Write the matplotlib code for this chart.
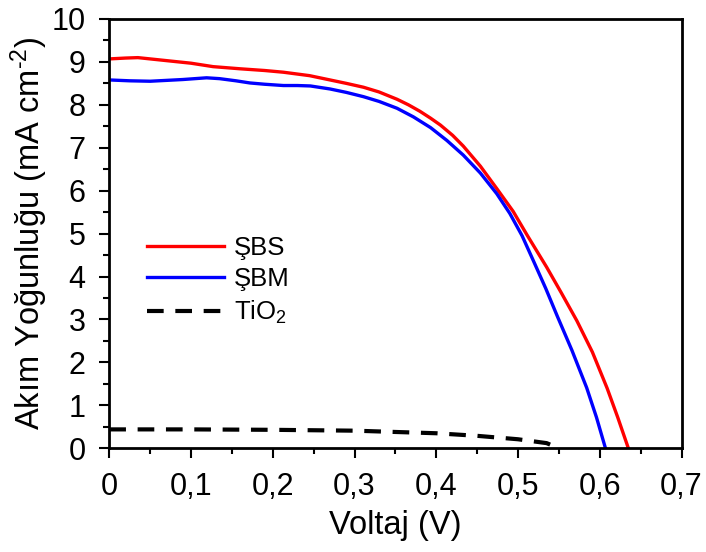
import matplotlib
matplotlib.use("Agg")
import matplotlib.pyplot as plt
from matplotlib.ticker import MultipleLocator

plt.rcParams['font.family'] = ['Liberation Sans', 'DejaVu Sans']
plt.rcParams['mathtext.fontset'] = 'custom'
plt.rcParams['mathtext.rm'] = 'Liberation Sans'
plt.rcParams['mathtext.it'] = 'Liberation Sans'

# ŞBS (red)
v_sbs = [0, 0.02, 0.035, 0.055, 0.08, 0.1, 0.127, 0.16, 0.19, 0.213, 0.245, 0.27,
         0.29, 0.311, 0.33, 0.352, 0.366, 0.38, 0.393, 0.405, 0.42, 0.433, 0.454,
         0.474, 0.494, 0.511, 0.535, 0.553, 0.572, 0.591, 0.609, 0.622, 0.635]
j_sbs = [9.07, 9.09, 9.10, 9.06, 9.01, 8.97, 8.89, 8.84, 8.80, 8.76, 8.68, 8.58,
         8.50, 8.41, 8.30, 8.13, 8.00, 7.85, 7.69, 7.53, 7.29, 7.04, 6.57,
         6.05, 5.52, 4.97, 4.22, 3.62, 2.97, 2.24, 1.40, 0.72, 0.0]

# ŞBM (blue)
v_sbm = [0, 0.025, 0.05, 0.07, 0.09, 0.119, 0.135, 0.155, 0.172, 0.19, 0.213, 0.23,
         0.246, 0.27, 0.29, 0.311, 0.33, 0.352, 0.372, 0.393, 0.413, 0.433, 0.454,
         0.474, 0.49, 0.505, 0.519, 0.534, 0.548, 0.566, 0.584, 0.596, 0.607]
j_sbm = [8.58, 8.56, 8.55, 8.57, 8.59, 8.63, 8.61, 8.56, 8.51, 8.48, 8.45, 8.45,
         8.44, 8.37, 8.29, 8.19, 8.08, 7.92, 7.72, 7.47, 7.17, 6.83, 6.41,
         5.93, 5.47, 4.95, 4.36, 3.72, 3.08, 2.28, 1.41, 0.72, 0.0]

# TiO2 (black dashed)
v_tio2 = [0, 0.1, 0.2, 0.3, 0.35, 0.4, 0.45, 0.5, 0.535, 0.55]
j_tio2 = [0.44, 0.44, 0.43, 0.41, 0.38, 0.35, 0.29, 0.21, 0.12, 0.0]

x_ticks = [0, 0.1, 0.2, 0.3, 0.4, 0.5, 0.6, 0.7]
x_ticklabels = ['0', '0,1', '0,2', '0,3', '0,4', '0,5', '0,6', '0,7']
y_ticks = list(range(0, 11))

fig = plt.figure(figsize=(7.06, 5.52), dpi=100)
ax = fig.add_axes([0.1548, 0.1879, 0.8105, 0.7777])

ax.plot(v_sbs, j_sbs, color='#FF0000', lw=2.4, label='ŞBS')
ax.plot(v_sbm, j_sbm, color='#0000FF', lw=2.4, label='ŞBM')
ax.plot(v_tio2, j_tio2, color='black', lw=3, linestyle=(0, (4, 2.8)), label='TiO$_2$')

ax.set_xlim(0, 0.7)
ax.set_ylim(0, 10)
ax.set_xticks(x_ticks)
ax.set_xticklabels(x_ticklabels)
ax.set_yticks(y_ticks)
ax.xaxis.set_minor_locator(MultipleLocator(0.05))
ax.yaxis.set_minor_locator(MultipleLocator(0.5))
ax.tick_params(which='major', direction='out', length=7, width=1.5, labelsize=22, pad=10)
ax.tick_params(which='minor', direction='out', length=4.5, width=1.5)
for s in ax.spines.values():
    s.set_linewidth(2)

ax.set_xlabel('Voltaj (V)', fontsize=23.5, labelpad=6)
ax.set_ylabel(r'Akım Yoğunluğu (mA cm$^{\text{-2}}$)', fontsize=23.5, labelpad=1)

ax.legend(loc='center left', bbox_to_anchor=(0.066, 0.39), frameon=False,
          fontsize=18.5, handlelength=3.0, handletextpad=0.37, labelspacing=0.3,
          borderpad=0, borderaxespad=0)

fig.savefig('out.png', dpi=100)
